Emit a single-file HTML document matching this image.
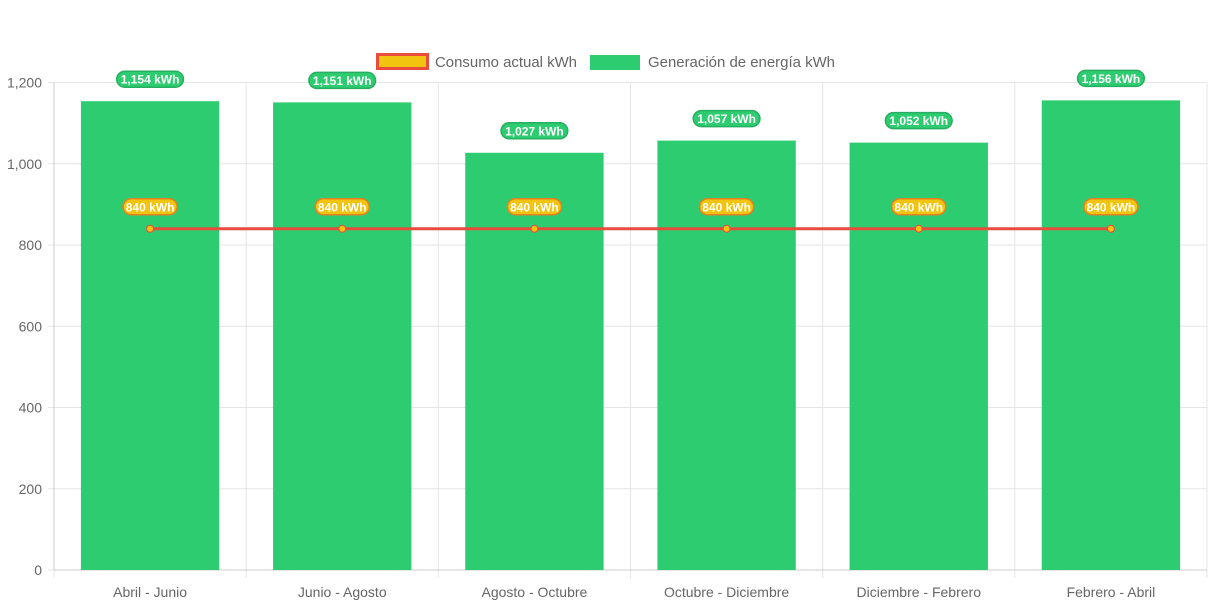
<!DOCTYPE html>
<html><head><meta charset="utf-8"><style>
body{margin:0;background:#fff;}
svg{display:block;font-family:"Liberation Sans",Arial,sans-serif;}
</style></head><body>
<svg id="c" width="1213" height="606"></svg>
<script>
const categories=["Abril - Junio","Junio - Agosto","Agosto - Octubre","Octubre - Diciembre","Diciembre - Febrero","Febrero - Abril"];
const generation=[1154,1151,1027,1057,1052,1156];
const consumption=[840,840,840,840,840,840];
const yTicks=[0,200,400,600,800,1000,1200];
const NS="http://www.w3.org/2000/svg";
const svg=document.getElementById('c');
const L=54,R=1207,T=82.5,B=570,YMAX=1200;
const cw=(R-L)/categories.length;
const y=v=>B-(v/YMAX)*(B-T);
const xc=i=>L+cw*(i+0.5);
function mk(tag,attrs,parent){const e=document.createElementNS(NS,tag);for(const k in attrs)e.setAttribute(k,attrs[k]);(parent||svg).appendChild(e);return e;}
yTicks.forEach(t=>{
 const g=mk('line',{x1:L-6,x2:R,y1:y(t),y2:y(t),stroke:'#e5e5e5','stroke-width':1});
 
 
 const tx=mk('text',{x:L-12,y:y(t)+5,'text-anchor':'end','font-size':14,fill:'#666'});
 tx.textContent=t.toLocaleString('en-US');
 
 
});
for(let i=0;i<=categories.length;i++){
 const g=mk('line',{x1:L+cw*i,x2:L+cw*i,y1:T,y2:B+8,stroke:'#e5e5e5','stroke-width':1});
 
 
}
mk('line',{x1:L,x2:L,y1:T,y2:B,stroke:'#ccc'});
mk('line',{x1:L,x2:R,y1:B,y2:B,stroke:'#ccc'});
categories.forEach((c,i)=>{
 const tx=mk('text',{x:xc(i),y:597,'text-anchor':'middle','font-size':14,fill:'#666'});
 tx.textContent=c;
 
 
});
const bw=cw*0.72;
generation.forEach((v,i)=>{
 const r=mk('rect',{x:xc(i)-bw/2,y:y(v),width:bw,height:B-y(v),fill:'#2ecc71'});
 
 
});
const pts=consumption.map((v,i)=>xc(i)+','+y(v)).join(' ');
const pl=mk('polyline',{points:pts,fill:'none',stroke:'#e74c3c','stroke-width':3});


consumption.forEach((v,i)=>{
 const p=mk('circle',{cx:xc(i),cy:y(v),r:3.5,fill:'#f1c40f',stroke:'#e74c3c','stroke-width':1});
 
 
});
function pill(cx,cy,txt,fill,stroke,name){
 const w=txt.length*6.3+10;
 const r=mk('rect',{x:cx-w/2,y:cy-8,width:w,height:16,rx:8,fill:fill,stroke:stroke,'stroke-width':1.5});
 
 
 const t=mk('text',{x:cx,y:cy+4.5,'text-anchor':'middle','font-size':12,'font-weight':'bold',fill:'#fff'});
 t.textContent=txt;
 
 
}
generation.forEach((v,i)=>pill(xc(i),y(v)-22,v.toLocaleString('en-US')+' kWh','#2ecc71','#27ae60','generation-value-label'));
consumption.forEach((v,i)=>pill(xc(i),y(v)-22,v.toLocaleString('en-US')+' kWh','#f1c40f','#e67e22','consumption-value-label'));
const lg=mk('g',{});


const s1=mk('rect',{x:377.5,y:54.5,width:50,height:14,fill:'#f1c40f',stroke:'#e74c3c','stroke-width':3},lg);


const t1=mk('text',{x:435,y:67,'font-size':14.5,fill:'#666',textLength:142,lengthAdjust:'spacingAndGlyphs'},lg);
t1.textContent='Consumo actual kWh';


const s2=mk('rect',{x:590,y:55,width:50,height:15,fill:'#2ecc71'},lg);


const t2=mk('text',{x:648,y:67,'font-size':14.5,fill:'#666',textLength:187,lengthAdjust:'spacingAndGlyphs'},lg);
t2.textContent='Generación de energía kWh';


</script>
</body></html>
